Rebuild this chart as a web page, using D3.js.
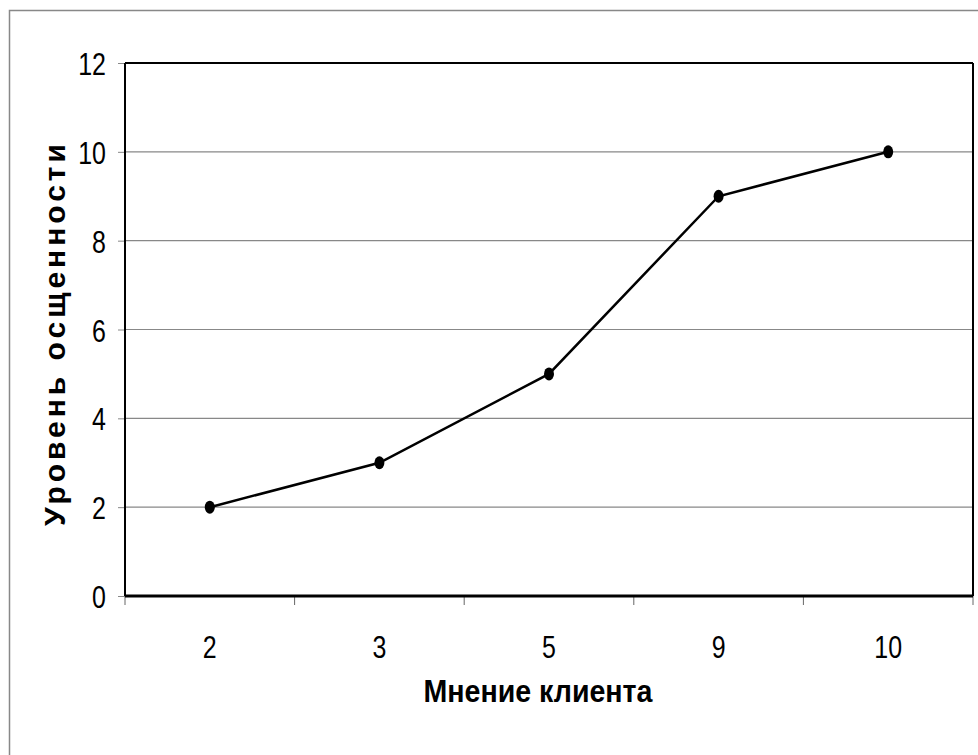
<!DOCTYPE html>
<html><head><meta charset="utf-8">
<script src="https://cdn.jsdelivr.net/npm/d3@7"></script>
<style>body{margin:0;background:#fff}svg{display:block}</style>
</head><body>
<svg id="c" width="978" height="755"></svg>
<script>
const categories = ["2","3","5","9","10"];
const values = [2,3,5,9,10];
const yTicks = [0,2,4,6,8,10,12];
const xTitle = "Мнение клиента";
const yTitle = "Уровень осщенности";

const svg = d3.select("#c");
const L=125, R=973, T=63, B=596;
const font = "'Liberation Sans',Arial,sans-serif";
const SX = 0.78;

svg.append("rect").attr("x",9.5).attr("y",10.5).attr("width",975).attr("height",760)
  .attr("fill","none").attr("stroke","#888").attr("stroke-width",1.5);

const x = d3.scaleBand().domain(categories).range([L,R]);
const y = d3.scaleLinear().domain([0,12]).range([B,T]);

// gridlines
svg.append("g").selectAll("line").data(yTicks.filter(d=>d>0&&d<12)).join("line")
  .attr("x1",L).attr("x2",R).attr("y1",d=>y(d)).attr("y2",d=>y(d))
  .attr("stroke","#888").attr("stroke-width",1.2);

// y axis
const ya = svg.append("g").attr("transform",`translate(${L},0)`)
  .call(d3.axisLeft(y).tickValues(yTicks).tickSize(7));
ya.select(".domain").remove();
ya.selectAll(".tick line").attr("stroke","#888");
ya.selectAll(".tick text").remove();
svg.append("g").selectAll("text").data(yTicks).join("text")
  .attr("transform",d=>`translate(106,${y(d)+12}) scale(${SX},1)`)
  .attr("text-anchor","end").attr("font-family",font).attr("font-size",32).attr("fill","#000")
  .text(d=>d);

// x axis
const xa = svg.append("g").attr("transform",`translate(0,${B})`)
  .call(d3.axisBottom(x).tickSize(0));
xa.select(".domain").remove();
xa.selectAll(".tick text").remove();
svg.append("g").selectAll("text").data(categories).join("text")
  .attr("transform",d=>`translate(${x(d)+x.bandwidth()/2},658) scale(${SX},1)`)
  .attr("text-anchor","middle").attr("font-family",font).attr("font-size",32).attr("fill","#000")
  .text(d=>d);
const bounds = categories.map(c=>x(c)).concat([x(categories[categories.length-1])+x.bandwidth()]);
svg.append("g").selectAll("line").data(bounds).join("line")
  .attr("x1",d=>d).attr("x2",d=>d).attr("y1",B).attr("y2",B+9)
  .attr("stroke","#666").attr("stroke-width",1);

// plot frame
svg.append("line").attr("x1",L).attr("x2",R).attr("y1",T).attr("y2",T).attr("stroke","#000").attr("stroke-width",2);
svg.append("line").attr("x1",R).attr("x2",R).attr("y1",T).attr("y2",B).attr("stroke","#000").attr("stroke-width",2);
svg.append("line").attr("x1",L).attr("x2",L).attr("y1",T).attr("y2",B).attr("stroke","#000").attr("stroke-width",2);
svg.append("line").attr("x1",L).attr("x2",R).attr("y1",B).attr("y2",B).attr("stroke","#000").attr("stroke-width",3);

// line
const cx = d=>x(d)+x.bandwidth()/2;
svg.append("path").datum(values)
  .attr("d",d3.line().x((v,i)=>cx(categories[i])).y(v=>y(v)))
  .attr("fill","none").attr("stroke","#000").attr("stroke-width",2.5);
svg.append("g").selectAll("ellipse").data(values).join("ellipse")
  .attr("cx",(v,i)=>cx(categories[i])).attr("cy",v=>y(v)).attr("rx",5).attr("ry",6.5).attr("fill","#000");

// titles
svg.append("text").attr("x",(L+R)/2 - 11).attr("y",702).attr("text-anchor","middle")
  .attr("font-family",font).attr("font-weight","bold").attr("font-size",31).attr("fill","#000")
  .attr("textLength",229).attr("lengthAdjust","spacingAndGlyphs").text(xTitle);
svg.append("text").attr("transform",`translate(65,335) rotate(-90)`).attr("text-anchor","middle")
  .attr("font-family",font).attr("font-weight","bold").attr("font-size",30)
  .attr("textLength",382).attr("lengthAdjust","spacing").attr("fill","#000").text(yTitle);
</script>
</body></html>
